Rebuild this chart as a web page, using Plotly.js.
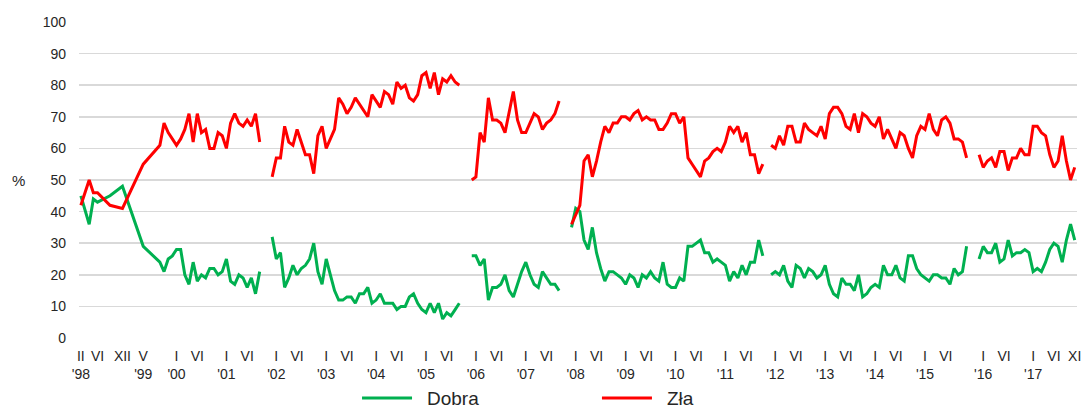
<!DOCTYPE html>
<html>
<head>
<meta charset="utf-8">
<script src="https://cdn.plot.ly/plotly-3.0.1.min.js"></script>
<style>html,body{margin:0;padding:0;background:#fff;}#chart{width:1083px;height:409px;}</style>
</head>
<body>
<div id="chart"></div>
<script>
// ---- Axis categories: monthly survey slots, Feb 1998 – Nov 2017 (two blank slots after Nov 2015) ----
const spacerCats = ["przerwa-1", "przerwa-2"];
const axisCats = [];
for (let y = 1998; y <= 2017; y++) {
  for (let m = 1; m <= 12; m++) {
    if (y === 1998 && m < 2) continue;
    if (y === 2017 && m > 11) continue;
    axisCats.push(y + "-" + String(m).padStart(2, "0"));
    if (y === 2015 && m === 11) axisCats.push(...spacerCats);
  }
}

// ---- Tick labels ----
const tickMonths = ["1998-02","1998-06","1998-12","1999-05",
  "2000-01","2000-06","2001-01","2001-06","2002-01","2002-06","2003-01","2003-06",
  "2004-01","2004-06","2005-01","2005-06","2006-01","2006-06","2007-01","2007-06",
  "2008-01","2008-06","2009-01","2009-06","2010-01","2010-06","2011-01","2011-06",
  "2012-01","2012-06","2013-01","2013-06","2014-01","2014-06","2015-01","2015-06",
  "2016-01","2016-06","2017-01","2017-06","2017-11"];
const tickLabels = ["II<br>'98","VI","XII","V<br>'99",
  "I<br>'00","VI","I<br>'01","VI","I<br>'02","VI","I<br>'03","VI",
  "I<br>'04","VI","I<br>'05","VI","I<br>'06","VI","I<br>'07","VI",
  "I<br>'08","VI","I<br>'09","VI","I<br>'10","VI","I<br>'11","VI",
  "I<br>'12","VI","I<br>'13","VI","I<br>'14","VI","I<br>'15","VI",
  "I<br>'16","VI","I<br>'17","VI","XI"];

// ---- Data (%), period 1: Feb 1998 – Sep 2001 (sparse surveys in 1998–99) ----
const months1 = ["1998-02","1998-04","1998-05","1998-06","1998-09","1998-12",
  "1999-05","1999-09","1999-10","1999-11","1999-12",
  "2000-01","2000-02","2000-03","2000-04","2000-05","2000-06","2000-07","2000-08","2000-09","2000-10","2000-11","2000-12",
  "2001-01","2001-02","2001-03","2001-04","2001-05","2001-06","2001-07","2001-08","2001-09"];
const dobra1 = [45,36,44,43,45,48, 29,24,21,25,26, 28,28,20,17,24,18,20,19,22,22,20,21, 25,18,17,20,19,16,19,14,21];
const zla1   = [42,50,46,46,42,41, 55,61,68,65,63, 61,63,66,71,62,71,65,66,60,60,65,64, 60,68,71,68,67,69,67,71,62];

// period 2: from Dec 2001 (monthly)
const start2 = "2001-12";
const dobra2 = [32,25,27,16,19,23,20,22,23,25, 30,21,17,25,20,15,12,12,13,13, 11,14,14,16,11,12,14,11,11,11, 9,10,10,13,14,11,9,8,11,8, 11,6,8,7,9,11];
const zla2   = [51,57,57,67,62,61,66,62,58,58, 52,64,67,60,63,66,76,74,71,73, 76,74,72,70,77,75,73,78,77,74, 81,79,80,76,75,77,83,84,79,84, 77,82,81,83,81,80];

// period 3: from Dec 2005
const start3 = "2005-12";
const dobra3 = [26,26,23,25,12,16,16,17,20,15, 13,17,21,24,20,17,16,21,19,17, 17,15];
const zla3   = [50,51,65,62,76,69,69,68,65,71, 78,69,65,65,68,71,70,66,68,69, 71,75];

// period 4: from Dec 2007
const start4 = "2007-12";
const dobra4 = [35,41,40,31,28,35,27,22,18,21, 21,20,19,17,20,19,16,20,19,21, 19,18,24,17,16,16,19,18,29,29, 30,31,27,27,24,25,24,23,18,21, 19,23,20,24,24,31,26];
const zla4   = [36,39,42,56,58,51,56,62,67,65, 68,68,70,70,69,71,72,69,70,69, 69,66,66,68,71,71,68,70,57,55, 53,51,56,57,59,60,59,62,67,65, 67,62,65,58,58,52,55];

// period 5: from Dec 2011
const start5 = "2011-12";
const dobra5 = [20,21,20,23,18,16,23,22,19,22, 21,19,20,23,17,14,13,19,17,17, 15,20,13,14,16,17,16,23,20,20, 23,19,18,26,26,22,20,19,18,20, 20,19,19,17,22,20,21,29];
const zla5   = [61,60,64,61,67,67,62,62,68,66, 65,64,67,63,71,73,73,71,67,66, 71,65,71,70,68,67,70,63,66,63, 60,65,64,60,57,64,67,66,71,66, 64,69,70,68,63,63,62,57];

// period 6: from Dec 2015
const start6 = "2015-12";
const dobra6 = [25,29,27,27,30,24,25,31,26,27, 27,28,27,21,22,21,24,28,30,29, 24,31,36,31];
const zla6   = [58,54,56,57,54,59,59,53,57,57, 60,58,58,67,67,65,64,58,54,56, 64,56,50,54];

// ---- Series names and colours ----
const seriesNames = ["Dobra", "Zła"];
const seriesColors = ["#00B050", "#FF0000"];

// ---- Assemble (categories taken from the axis list; null between periods breaks the line) ----
function monthsFrom(start, n) {
  const i = axisCats.indexOf(start);
  return axisCats.slice(i, i + n);
}
const periods = [
  {x: months1, d: dobra1, z: zla1},
  {x: monthsFrom(start2, dobra2.length), d: dobra2, z: zla2},
  {x: monthsFrom(start3, dobra3.length), d: dobra3, z: zla3},
  {x: monthsFrom(start4, dobra4.length), d: dobra4, z: zla4},
  {x: monthsFrom(start5, dobra5.length), d: dobra5, z: zla5},
  {x: monthsFrom(start6, dobra6.length), d: dobra6, z: zla6}
];
const X = [], D = [], Z = [];
periods.forEach((p, k) => {
  X.push(...p.x); D.push(...p.d); Z.push(...p.z);
  if (k < periods.length - 1) {
    const last = p.x[p.x.length - 1];
    X.push(axisCats[axisCats.indexOf(last) + 1]); D.push(null); Z.push(null);
  }
});

const traces = [
  {x: X, y: D, name: seriesNames[0], type: "scatter", mode: "lines", connectgaps: false,
   line: {color: seriesColors[0], width: 3}},
  {x: X, y: Z, name: seriesNames[1], type: "scatter", mode: "lines", connectgaps: false,
   line: {color: seriesColors[1], width: 3}}
];

// legend drawn below the plot: sample line + label for each series
const legY = -0.19;
const legLines = [[0.2836, 0.3337], [0.5240, 0.5741]];
const legText = [0.3467, 0.5872];
const shapes = seriesNames.map((n, i) => ({
  type: "line", xref: "paper", yref: "paper", x0: legLines[i][0], x1: legLines[i][1],
  y0: legY, y1: legY, line: {color: seriesColors[i], width: 3}
}));
const annotations = seriesNames.map((n, i) => ({
  text: n, xref: "paper", yref: "paper", x: legText[i], y: legY, xanchor: "left", yanchor: "middle",
  showarrow: false, font: {size: 19, color: "#262626"}
}));
annotations.push({text: "%", xref: "paper", yref: "y", x: -0.061, y: 50, xanchor: "center",
                  yanchor: "middle", showarrow: false, font: {size: 15, color: "#262626"}});

const layout = {
  width: 1083, height: 409,
  margin: {l: 79, r: 6, t: 22, b: 71, pad: 0, autoexpand: false},
  paper_bgcolor: "#ffffff", plot_bgcolor: "#ffffff",
  font: {family: "Liberation Sans, Arial, sans-serif", size: 14, color: "#262626"},
  showlegend: false,
  xaxis: {type: "category", categoryorder: "array", categoryarray: axisCats,
          range: [-0.45, 239.55], tickmode: "array", tickvals: tickMonths, ticktext: tickLabels,
          tickangle: 0, showgrid: false, zeroline: false, showline: false, ticks: "",
          ticklabelstandoff: 8, automargin: false, fixedrange: true},
  yaxis: {range: [0, 100], tickmode: "linear", tick0: 0, dtick: 10,
          showgrid: true, gridcolor: "#d9d9d9", gridwidth: 1.5, zeroline: false,
          showline: false, ticks: "", ticklabelstandoff: 12, automargin: false, fixedrange: true},
  shapes: shapes,
  annotations: annotations
};

Plotly.newPlot("chart", traces, layout, {displayModeBar: false, staticPlot: true});
</script>
</body>
</html>
